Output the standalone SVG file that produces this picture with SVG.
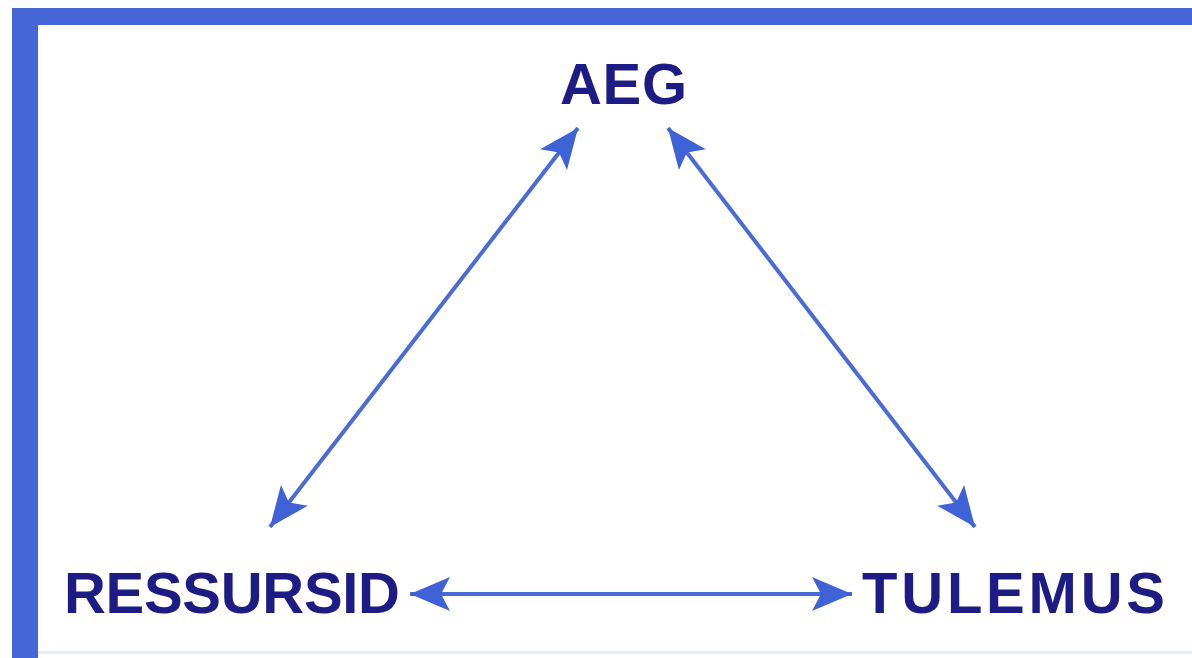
<svg xmlns="http://www.w3.org/2000/svg" width="1192" height="658" viewBox="0 0 1192 658">
<style>
.lbl{font-family:"Liberation Sans",Arial,sans-serif;font-weight:bold;fill:#1c1c84;}
.conn{stroke:#4a6ad4;stroke-width:4;fill:none;marker-start:url(#ah);marker-end:url(#ah);}
</style>
<defs>
<marker id="ah" markerUnits="userSpaceOnUse" markerWidth="44" markerHeight="40" viewBox="0 0 44 40" refX="40" refY="20" orient="auto-start-reverse">
<path d="M0,3 L40,20 L0,37 L9,20 Z" fill="#3f63d6"/>
</marker>
</defs>
<rect x="0" y="0" width="1192" height="658" fill="#ffffff"/>
<g id="frame">
<rect x="12" y="8" width="1180" height="17" fill="#4466d6"/>
<rect x="12" y="8" width="26" height="650" fill="#4466d6"/>
<rect x="38" y="651" width="1154" height="3" fill="#e6eefa"/>
</g>
<g id="connectors">
<line class="conn" x1="270" y1="527" x2="578" y2="128"/>
<line class="conn" x1="668" y1="128" x2="975" y2="527"/>
<line class="conn" x1="410" y1="594" x2="852" y2="594"/>
</g>
<g id="node-aeg"><text class="lbl" x="560" y="104" font-size="58" textLength="127" lengthAdjust="spacing">AEG</text></g>
<g id="node-ressursid"><text class="lbl" x="64" y="613" font-size="58" textLength="336" lengthAdjust="spacing">RESSURSID</text></g>
<g id="node-tulemus"><text class="lbl" x="862" y="613" font-size="58" textLength="303" lengthAdjust="spacing">TULEMUS</text></g>
</svg>
